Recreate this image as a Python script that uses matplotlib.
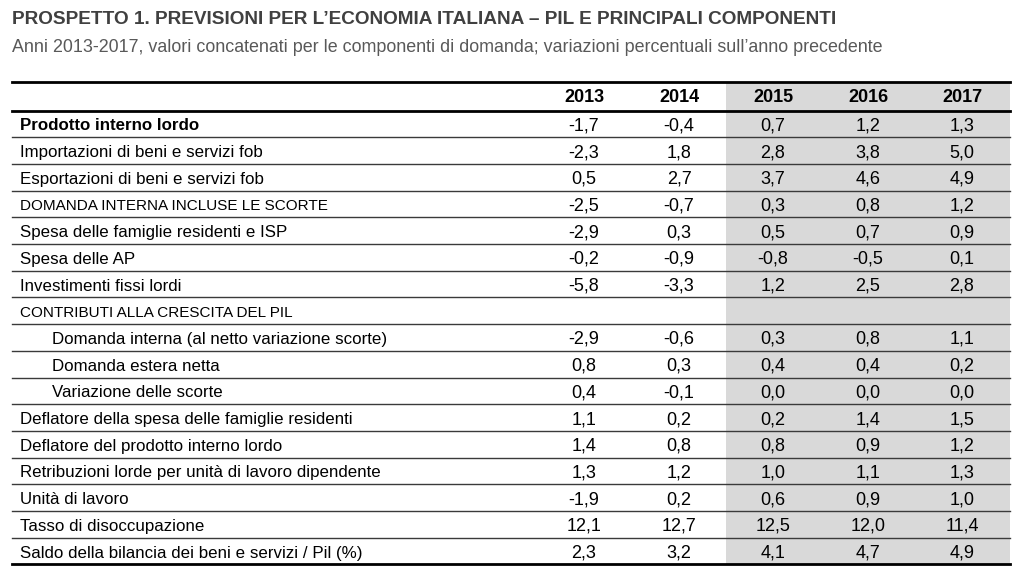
import matplotlib
matplotlib.use('Agg')
import matplotlib.pyplot as plt
from matplotlib.patches import Rectangle

plt.rcParams['font.family'] = ['Liberation Sans', 'DejaVu Sans']

title = 'PROSPETTO 1. PREVISIONI PER L’ECONOMIA ITALIANA – PIL E PRINCIPALI COMPONENTI'
subtitle = ('Anni 2013-2017, valori concatenati per le componenti di domanda; '
            'variazioni percentuali sull’anno precedente')

years = ['2013', '2014', '2015', '2016', '2017']

row_labels = [
    'Prodotto interno lordo',
    'Importazioni di beni e servizi fob',
    'Esportazioni di beni e servizi fob',
    'DOMANDA INTERNA INCLUSE LE SCORTE',
    'Spesa delle famiglie residenti e ISP',
    'Spesa delle AP',
    'Investimenti fissi lordi',
    'CONTRIBUTI ALLA CRESCITA DEL PIL',
    'Domanda interna (al netto variazione scorte)',
    'Domanda estera netta',
    'Variazione delle scorte',
    'Deflatore della spesa delle famiglie residenti',
    'Deflatore del prodotto interno lordo',
    'Retribuzioni lorde per unità di lavoro dipendente',
    'Unità di lavoro',
    'Tasso di disoccupazione',
    'Saldo della bilancia dei beni e servizi / Pil (%)',
]
indented = [8, 9, 10]
caps_rows = [3, 7]
bold_rows = [0]

v2013 = [-1.7, -2.3, 0.5, -2.5, -2.9, -0.2, -5.8, None, -2.9, 0.8, 0.4, 1.1, 1.4, 1.3, -1.9, 12.1, 2.3]
v2014 = [-0.4, 1.8, 2.7, -0.7, 0.3, -0.9, -3.3, None, -0.6, 0.3, -0.1, 0.2, 0.8, 1.2, 0.2, 12.7, 3.2]
v2015 = [0.7, 2.8, 3.7, 0.3, 0.5, -0.8, 1.2, None, 0.3, 0.4, 0.0, 0.2, 0.8, 1.0, 0.6, 12.5, 4.1]
v2016 = [1.2, 3.8, 4.6, 0.8, 0.7, -0.5, 2.5, None, 0.8, 0.4, 0.0, 1.4, 0.9, 1.1, 0.9, 12.0, 4.7]
v2017 = [1.3, 5.0, 4.9, 1.2, 0.9, 0.1, 2.8, None, 1.1, 0.2, 0.0, 1.5, 1.2, 1.3, 1.0, 11.4, 4.9]
values = [v2013, v2014, v2015, v2016, v2017]


def fmt(v):
    return '' if v is None else f'{v:.1f}'.replace('.', ',')


fig = plt.figure(figsize=(10.24, 5.87), dpi=100)
fig.patch.set_facecolor('white')
ax = fig.add_axes([0, 0, 1, 1])
ax.set_xlim(0, 1024)
ax.set_ylim(587, 0)
ax.axis('off')

ax.text(12, 19, title, fontsize=13.7, fontweight='bold',
        color='#404040', va='center', ha='left')
ax.text(12, 47, subtitle, fontsize=12.9, color='#595959',
        va='center', ha='left')

# table geometry (pixels)
left, right = 12, 1010
top, head_bottom = 82, 110.5
row_h = 26.7
col_x = [584, 679, 773, 868, 962]
shade_left = 726
n = len(row_labels)
bottom = head_bottom + n * row_h

ax.add_patch(Rectangle((shade_left, top), right - shade_left, bottom - top,
                       facecolor='#d9d9d9', edgecolor='none', zorder=0))

# header
for x, y in zip(col_x, years):
    ax.text(x, (top + head_bottom) / 2 + 1.5, y, ha='center', va='center',
            fontsize=13, fontweight='bold', color='black')

for i, lab in enumerate(row_labels):
    yc = head_bottom + (i + 0.5) * row_h + 2
    x0 = 52 if i in indented else 20
    fs = 11 if i in caps_rows else 12.2
    fw = 'bold' if i in bold_rows else 'normal'
    ax.text(x0, yc, lab, ha='left', va='center', fontsize=fs, fontweight=fw,
            color='black')
    for x, col in zip(col_x, values):
        ax.text(x, yc, fmt(col[i]), ha='center', va='center', fontsize=13,
                color='black')
    if i < n - 1:
        yl = head_bottom + (i + 1) * row_h
        ax.plot([left, right], [yl, yl], color='#3a3a3a', lw=1.0, zorder=2)

ax.plot([left, right], [top, top], color='black', lw=2, zorder=3)
ax.plot([left, right], [head_bottom, head_bottom], color='black', lw=2, zorder=3)
ax.plot([left, right], [bottom, bottom], color='black', lw=2, zorder=3)

fig.savefig('out.png', dpi=100, facecolor='white')
